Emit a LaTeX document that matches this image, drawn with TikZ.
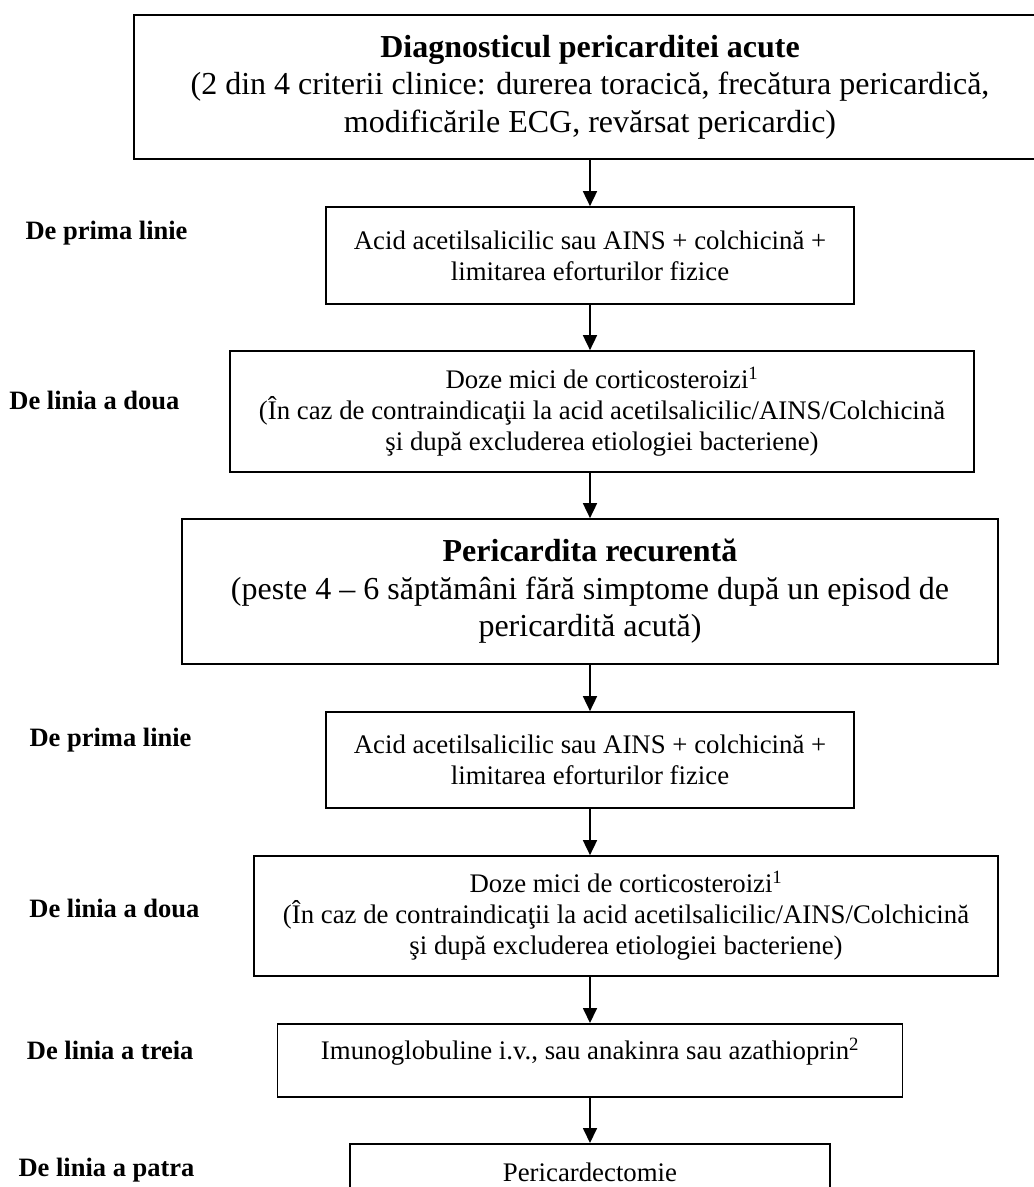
\documentclass[tikz,border=0pt]{standalone}
\usepackage{fontspec}
\setmainfont{Liberation Serif}
\usetikzlibrary{arrows.meta}

\begin{document}
\begin{tikzpicture}[x=1pt, y=-1pt,
  box/.style={draw, line width=1.7pt, align=center, inner sep=0pt,
              font=\fontsize{26.8}{31}\selectfont},
  big/.style={box, font=\fontsize{32}{37.5}\selectfont},
  lvl/.style={anchor=east, font=\fontsize{26.5}{30}\selectfont\bfseries},
  arr/.style={-{Triangle[length=15pt,width=14pt]}, line width=1.7pt}
]
  \useasboundingbox (0,0) rectangle (1034,1187);
  % acute pericarditis
  \node[big, minimum width=912pt, minimum height=144pt] (b1) at (590,87)
    {\textbf{Diagnosticul pericarditei acute}\\(2 din 4 criterii clinice: durerea toracică, frecătura pericardică,\\modificările ECG, revărsat pericardic)};
  \node[box, minimum width=528pt, minimum height=97pt] (b2) at (590,255.5)
    {Acid acetilsalicilic sau AINS + colchicină +\\limitarea eforturilor fizice};
  \node[box, minimum width=744pt, minimum height=121pt] (b3) at (602,411.5)
    {Doze mici de corticosteroizi\textsuperscript{1}\\(În caz de contraindicaţii la acid acetilsalicilic/AINS/Colchicină\\şi după excluderea etiologiei bacteriene)};
  % recurrent pericarditis
  \node[big, minimum width=816pt, minimum height=145pt] (b4) at (590,591.5)
    {\textbf{Pericardita recurentă}\\(peste 4 – 6 săptămâni fără simptome după un episod de\\pericardită acută)};
  \node[box, minimum width=528pt, minimum height=96pt] (b5) at (590,760)
    {Acid acetilsalicilic sau AINS + colchicină +\\limitarea eforturilor fizice};
  \node[box, minimum width=744pt, minimum height=120pt] (b6) at (626,916)
    {Doze mici de corticosteroizi\textsuperscript{1}\\(În caz de contraindicaţii la acid acetilsalicilic/AINS/Colchicină\\şi după excluderea etiologiei bacteriene)};
  \node[box, minimum width=625pt, text height=36pt, text depth=37pt, anchor=north] (b7) at (590,1023)
    {Imunoglobuline i.v., sau anakinra sau azathioprin\textsuperscript{2}};
  \node[box, minimum width=480pt, text height=38pt, text depth=40pt, anchor=north] (b8) at (590,1143)
    {Pericardectomie};
  % line labels
  \node[lvl] (l1) at (191,233)  {De prima linie};
  \node[lvl] (l2) at (183,400)  {De linia a doua};
  \node[lvl] (l3) at (195,740)  {De prima linie};
  \node[lvl] (l4) at (203,908)  {De linia a doua};
  \node[lvl] (l5) at (197,1050) {De linia a treia};
  \node[lvl] (l6) at (198,1170) {De linia a patra};
  \draw[arr] (b1) -- (b2);
  \draw[arr] (b2) -- (b2 |- b3.north);
  \draw[arr] (b4 |- b3.south) -- (b4);
  \draw[arr] (b4) -- (b5);
  \draw[arr] (b5) -- (b5 |- b6.north);
  \draw[arr] (b7 |- b6.south) -- (b7);
  \draw[arr] (b7) -- (b8);
\end{tikzpicture}
\end{document}
